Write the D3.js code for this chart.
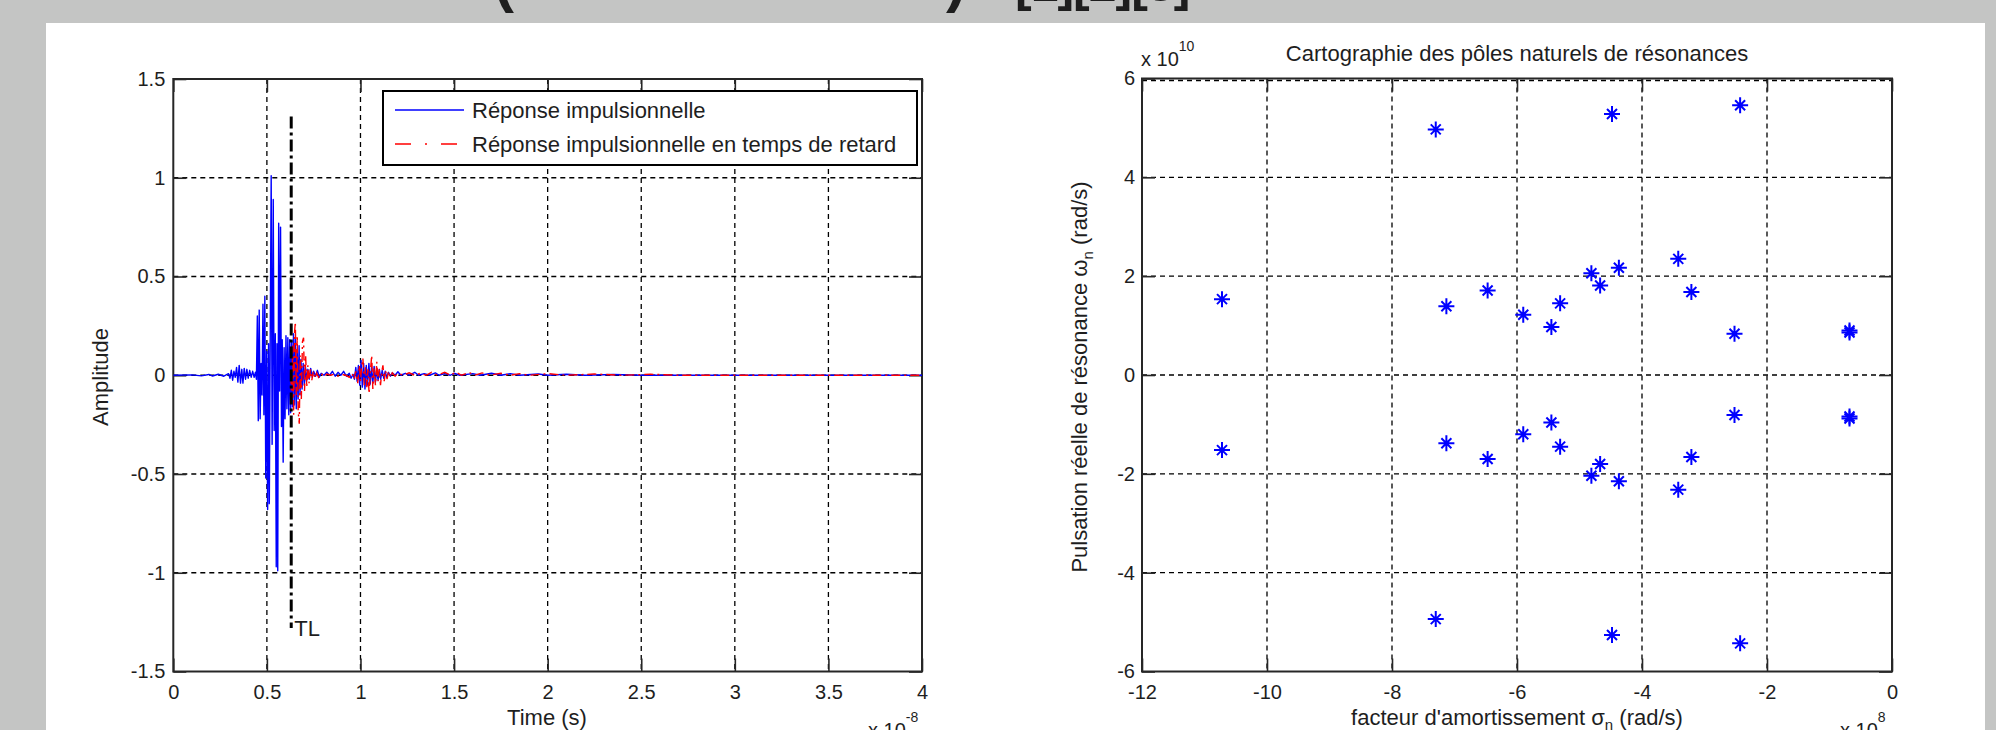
<!DOCTYPE html>
<html>
<head>
<meta charset="utf-8">
<script src="https://cdn.jsdelivr.net/npm/d3@7"></script>
<style>
  html, body { margin: 0; padding: 0; background: #c4c5c4; overflow: hidden; }
  svg { display: block; }
  text { font-family: "Liberation Sans", Arial, sans-serif; fill: #1e1e1e; }
</style>
</head>
<body>
<svg id="chart" width="1996" height="730"></svg>
<script>
// ---------------- DATA ----------------
// Left chart: impulse response (time in units of 1e-8 s)
const timeBlue = [0.000,0.100,0.150,0.190,0.210,0.240,0.270,0.295,0.303,0.310,0.317,0.324,0.331,0.338,0.345,0.352,0.359,0.366,0.372,0.379,0.386,0.393,0.400,0.408,0.416,0.424,0.432,0.439,0.444,0.449,0.454,0.459,0.464,0.469,0.474,0.479,0.484,0.489,0.494,0.499,0.504,0.509,0.513,0.518,0.523,0.528,0.534,0.539,0.545,0.550,0.554,0.558,0.563,0.568,0.573,0.578,0.582,0.587,0.592,0.597,0.602,0.607,0.612,0.617,0.622,0.627,0.632,0.637,0.642,0.647,0.652,0.657,0.662,0.667,0.672,0.677,0.682,0.688,0.694,0.700,0.706,0.712,0.719,0.726,0.734,0.742,0.750,0.760,0.770,0.780,0.790,0.805,0.820,0.835,0.850,0.865,0.880,0.895,0.910,0.925,0.940,0.950,0.960,0.968,0.975,0.982,0.989,0.996,1.003,1.010,1.017,1.024,1.031,1.038,1.045,1.052,1.059,1.066,1.073,1.080,1.087,1.094,1.101,1.108,1.116,1.124,1.132,1.140,1.150,1.160,1.170,1.185,1.200,1.215,1.240,1.260,1.290,1.310,1.340,1.370,1.400,1.420,1.450,1.480,1.500,1.530,1.600,1.640,1.700,1.750,1.800,1.850,1.950,2.000,2.100,2.200,2.350,2.500,4.000];
const ampBlue = [0,0.002,-0.003,0.004,-0.004,0.005,-0.005,0.008,-0.015,0.025,-0.025,0.02,-0.01,0.04,-0.035,0.05,-0.04,0.03,-0.04,0.035,-0.02,0.03,-0.015,0.025,-0.01,0.02,-0.01,0.015,-0.02,0.30,-0.23,0.33,-0.22,0.06,-0.10,0.36,-0.20,0.40,-0.52,0.12,-0.68,0.16,-0.65,0.22,1.01,-0.35,0.89,-0.28,0.21,-0.97,0.16,-0.99,0.77,-0.08,0.75,-0.26,0.18,-0.44,0.14,-0.22,0.20,-0.17,0.19,-0.20,0.18,-0.19,0.17,-0.16,0.21,-0.15,0.19,-0.17,0.13,-0.12,0.15,-0.10,0.08,-0.07,0.06,-0.05,0.045,-0.03,0.03,-0.02,0.035,-0.01,0.02,-0.005,0.025,-0.01,0.01,0,0.015,0,0.02,-0.005,0.015,0,0.02,-0.005,0.01,-0.015,0.005,-0.02,0.04,-0.03,0.05,-0.05,0.075,-0.06,0.06,-0.07,0.05,-0.05,0.06,-0.045,0.04,-0.04,0.045,-0.035,0.03,-0.025,0.03,-0.02,0.025,-0.015,0.02,-0.01,0.015,-0.005,0.012,0,0.018,0,0.01,0,0.015,0,0.008,0,0.012,0,0.008,0,0.01,0,0.008,0,0.01,0,0.008,0,0.006,0,0.005,0,0.004,0,0];
const timeRed = [0.628,0.633,0.638,0.643,0.648,0.652,0.657,0.662,0.667,0.673,0.678,0.684,0.690,0.696,0.701,0.707,0.713,0.719,0.725,0.732,0.740,0.748,0.757,0.766,0.776,0.790,0.805,0.820,0.840,0.860,0.880,0.900,0.920,0.940,0.955,0.965,0.975,0.985,0.994,1.000,1.006,1.013,1.020,1.027,1.034,1.040,1.046,1.053,1.060,1.066,1.073,1.080,1.087,1.094,1.100,1.107,1.114,1.120,1.127,1.134,1.142,1.150,1.160,1.170,1.185,1.200,1.230,1.260,1.290,1.320,1.350,1.380,1.410,1.450,1.480,1.510,1.540,1.580,1.610,1.650,1.690,1.750,1.800,1.850,1.900,2.000,2.100,2.250,2.400,2.550,2.700,4.000];
const ampRed = [0,-0.12,0.15,-0.20,0.22,0.27,-0.10,0.20,-0.18,-0.245,0.10,-0.12,0.17,0.19,-0.08,0.10,-0.06,0.05,-0.04,0.03,-0.025,0.02,-0.015,0.012,-0.01,0.01,-0.008,0.006,0,0.005,-0.005,0.005,0,-0.01,0.01,-0.02,0.02,-0.04,0.05,-0.03,0.04,0.085,-0.05,0.04,-0.06,0.03,-0.093,0.02,0.10,-0.07,0.04,-0.05,0.068,-0.03,0.03,-0.05,0.02,0.05,-0.03,0.025,-0.02,0.02,-0.01,0.012,-0.005,0.01,0,0.012,0,0.01,0,0.015,0,0.015,0,0.015,0,0.015,0,0.012,0,0.01,0,0.008,0,0.008,0,0.006,0,0.005,0,0];
const tlTime = 0.63;            // delay time marker TL
const tlSpan = [1.31, -1.28];   // vertical extent of the TL marker
const timeTicks = [0, 0.5, 1, 1.5, 2, 2.5, 3, 3.5, 4];
const ampTicks = [-1.5, -1, -0.5, 0, 0.5, 1, 1.5];
const legendLabels = ["Réponse impulsionnelle", "Réponse impulsionnelle en temps de retard"];

// Right chart: natural resonance poles (sigma in 1e8 rad/s, omega in 1e10 rad/s)
const sigmaPoles = [-10.72,-7.30,-7.13,-6.47,-5.90,-5.45,-5.31,-4.81,-4.67,-4.48,-4.37,-3.42,-3.21,-2.43,-2.52,-0.68,-0.68,
                    -10.72,-7.30,-7.13,-6.47,-5.90,-5.45,-5.31,-4.81,-4.67,-4.48,-4.37,-3.42,-3.21,-2.43,-2.52,-0.68,-0.68];
const omegaPoles = [1.535,4.97,1.39,1.71,1.22,0.97,1.45,2.06,1.81,5.28,2.17,2.35,1.68,5.46,0.835,0.90,0.86,
                    -1.52,-4.94,-1.38,-1.70,-1.20,-0.96,-1.45,-2.04,-1.80,-5.26,-2.15,-2.32,-1.66,-5.43,-0.81,-0.88,-0.84];
const sigmaTicks = [-12, -10, -8, -6, -4, -2, 0];
const omegaTicks = [-6, -4, -2, 0, 2, 4, 6];

// ---------------- DRAW ----------------
const svg = d3.select("#chart");

// white page panel
svg.append("rect").attr("x", 46).attr("y", 23).attr("width", 1939).attr("height", 720).attr("fill", "#ffffff");

// cut-off heading of the page above (only the lower edge of its glyphs is visible)
const head = svg.append("g").attr("font-weight", "bold");
head.append("text").attr("x", 494).attr("y", 1).attr("font-size", 60).attr("fill", "#111").text("(");
head.append("text").attr("x", 946).attr("y", 1).attr("font-size", 60).attr("fill", "#111").text(")");
head.append("text").attr("x", 1015).attr("y", 1).attr("font-size", 50).attr("letter-spacing", -1)
  .attr("fill", "#111").text("[1][2][3]");

function fmt(v) { return String(v).replace("−", "-"); }

function drawAxes(g, x, y, xTicks, yTicks, opts) {
  const [x0, x1] = x.range();
  const [y1, y0] = y.range();
  // grid
  const grid = g.append("g").attr("stroke", "#000").attr("stroke-width", 1.3).attr("stroke-dasharray", "5,4");
  xTicks.forEach(t => {
    if (t === xTicks[0] || t === xTicks[xTicks.length - 1]) return;
    grid.append("line").attr("x1", x(t)).attr("x2", x(t)).attr("y1", y0).attr("y2", y1);
  });
  yTicks.forEach(t => {
    if (t === yTicks[0]) return;
    if (t === yTicks[yTicks.length - 1] && !opts.topGrid) return;
    const yy = (t === yTicks[yTicks.length - 1]) ? y(t) + 2 : y(t);
    grid.append("line").attr("x1", x0).attr("x2", x1).attr("y1", yy).attr("y2", yy);
  });
  // axes with inward ticks (d3 axes)
  const tl = 13;
  const ax = g.append("g").attr("class", "axes");
  const bottom = ax.append("g").attr("transform", `translate(0,${y1})`)
    .call(d3.axisBottom(x).tickValues(xTicks).tickSize(-tl).tickPadding(tl + 8).tickFormat(fmt));
  ax.append("g").attr("transform", `translate(0,${y0})`)
    .call(d3.axisTop(x).tickValues(xTicks).tickSize(-tl).tickFormat(""));
  ax.append("g").attr("transform", `translate(${x0},0)`)
    .call(d3.axisLeft(y).tickValues(yTicks).tickSize(-tl).tickPadding(opts.yPad).tickFormat(fmt));
  ax.append("g").attr("transform", `translate(${x1},0)`)
    .call(d3.axisRight(y).tickValues(yTicks).tickSize(-tl).tickFormat(""));
  ax.selectAll(".domain").remove();
  ax.selectAll(".tick line").attr("stroke", "#262626").attr("stroke-width", 1.6);
  ax.selectAll(".tick text").attr("font-size", 20).attr("fill", "#1e1e1e")
    .attr("font-family", "'Liberation Sans', Arial, sans-serif");
  bottom.selectAll(".tick text").attr("dy", null).attr("y", 27);
  // box
  g.append("rect").attr("x", x0).attr("y", y0).attr("width", x1 - x0).attr("height", y1 - y0)
    .attr("fill", "none").attr("stroke", "#262626").attr("stroke-width", 2);
}

// ---- Left chart ----
const xL = d3.scaleLinear().domain([0, 4]).range([173.3, 922]);
const yL = d3.scaleLinear().domain([-1.5, 1.5]).range([671.5, 79]);
const gL = svg.append("g");
drawAxes(gL, xL, yL, timeTicks, ampTicks, { yPad: 8, topGrid: false });

svg.append("clipPath").attr("id", "clipL").append("rect")
  .attr("x", 173.3).attr("y", 79).attr("width", 922 - 173.3).attr("height", 592.5);
const plotL = gL.append("g").attr("clip-path", "url(#clipL)");

const line = d3.line().x(d => xL(d[0])).y(d => yL(d[1]));
plotL.append("path").datum(timeBlue.map((t, i) => [t, ampBlue[i]]))
  .attr("d", line).attr("fill", "none").attr("stroke", "#0000ff").attr("stroke-width", 1.4).attr("stroke-linejoin", "round");
plotL.append("path").datum(timeRed.map((t, i) => [t, ampRed[i]]))
  .attr("d", line).attr("fill", "none").attr("stroke", "#ff0000").attr("stroke-width", 1.4)
  .attr("stroke-dasharray", "9,4,2,4");

// TL marker
plotL.append("line").attr("x1", xL(tlTime)).attr("x2", xL(tlTime)).attr("y1", yL(tlSpan[0])).attr("y2", yL(tlSpan[1]))
  .attr("stroke", "#000").attr("stroke-width", 3).attr("stroke-dasharray", "12,4,3,4");
gL.append("text").attr("x", xL(tlTime) + 3).attr("y", yL(tlSpan[1]) + 8).attr("font-size", 22).attr("fill", "#000").text("TL");

// Legend
const lg = gL.append("g");
lg.append("rect").attr("x", 383).attr("y", 91).attr("width", 534).attr("height", 74)
  .attr("fill", "#fff").attr("stroke", "#000").attr("stroke-width", 2);
const legendStyles = [{ c: "#0000ff", d: null }, { c: "#ff0000", d: "16,14,2,14" }];
legendLabels.forEach((lab, i) => {
  const yy = 110 + i * 34;
  lg.append("line").attr("x1", 395).attr("x2", 464).attr("y1", yy).attr("y2", yy)
    .attr("stroke", legendStyles[i].c).attr("stroke-width", 1.5).attr("stroke-dasharray", legendStyles[i].d);
  lg.append("text").attr("x", 472).attr("y", yy + 8).attr("font-size", 22).text(lab);
});

// labels
gL.append("text").attr("x", 547).attr("y", 725).attr("text-anchor", "middle").attr("font-size", 22).text("Time (s)");
gL.append("text").attr("transform", "translate(108,377) rotate(-90)").attr("text-anchor", "middle")
  .attr("font-size", 22).text("Amplitude");
const expL = gL.append("text").attr("x", 868).attr("y", 737).attr("font-size", 20);
expL.append("tspan").text("x 10");
expL.append("tspan").attr("dy", -15).attr("font-size", 14).text("-8");

// ---- Right chart ----
const xR = d3.scaleLinear().domain([-12, 0]).range([1142, 1892]);
const yR = d3.scaleLinear().domain([-6, 6]).range([671.5, 78.5]);
const gR = svg.append("g");
drawAxes(gR, xR, yR, sigmaTicks, omegaTicks, { yPad: 7, topGrid: true });

const star = "M-8,0H8M0,-8V8M-5,-5L5,5M-5,5L5,-5";
gR.append("g").selectAll("path").data(sigmaPoles.map((s, i) => [s, omegaPoles[i]])).join("path")
  .attr("transform", d => `translate(${xR(d[0])},${yR(d[1])})`)
  .attr("d", star).attr("fill", "none").attr("stroke", "#0000ff").attr("stroke-width", 2);

gR.append("text").attr("x", 1517).attr("y", 61).attr("text-anchor", "middle").attr("font-size", 22)
  .text("Cartographie des pôles naturels de résonances");
const expTop = gR.append("text").attr("x", 1141).attr("y", 66).attr("font-size", 20);
expTop.append("tspan").text("x 10");
expTop.append("tspan").attr("dy", -15).attr("font-size", 14).text("10");

const xlab = gR.append("text").attr("x", 1517).attr("y", 725).attr("text-anchor", "middle").attr("font-size", 22);
xlab.append("tspan").text("facteur d'amortissement σ");
xlab.append("tspan").attr("dy", 5).attr("font-size", 15).text("n");
xlab.append("tspan").attr("dy", -5).text("  (rad/s)");

const ylab = gR.append("text").attr("transform", "translate(1087,377) rotate(-90)").attr("text-anchor", "middle").attr("font-size", 22);
ylab.append("tspan").text("Pulsation réelle de résonance ω");
ylab.append("tspan").attr("dy", 6).attr("font-size", 15).text("n");
ylab.append("tspan").attr("dy", -6).text("  (rad/s)");

const expR = gR.append("text").attr("x", 1840).attr("y", 737).attr("font-size", 20);
expR.append("tspan").text("x 10");
expR.append("tspan").attr("dy", -15).attr("font-size", 14).text("8");
</script>
</body>
</html>
